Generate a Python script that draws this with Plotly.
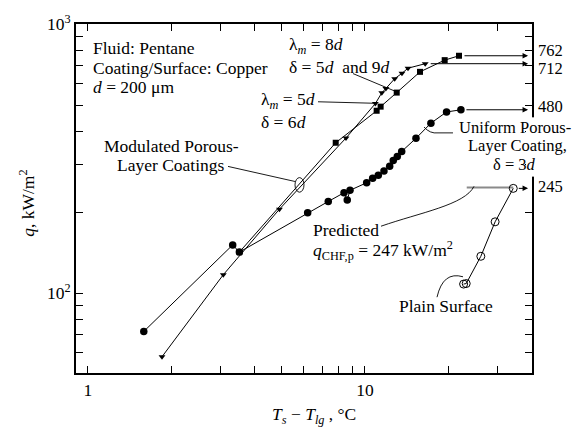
import math
import plotly.graph_objects as go

# ---------------- data ----------------
# Uniform porous-layer coating, delta = 3d (filled circles)
uni_dT = [1.59, 3.33, 3.52, 6.21, 7.37, 8.40, 8.63, 8.83, 10.14, 10.66, 11.17,
          11.71, 12.28, 12.65, 13.08, 13.57, 15.28, 17.3, 19.7, 22.2]
uni_q = [72, 151, 142, 199, 219, 236, 222, 241, 257, 267, 274,
         284, 296, 311, 322, 336, 376, 428, 471, 480]

# Modulated coating, lambda_m = 8d (filled squares)
sq_dT = [3.52, 7.84, 11.02, 11.39, 13.02, 15.8, 19.4, 21.85]
sq_q = [142, 362, 476, 493, 556, 664, 734, 762]

# Modulated coating, lambda_m = 5d (filled triangles)
tri_dT = [1.85, 3.08, 4.91, 8.54, 10.9, 11.5, 11.9, 12.8, 13.6, 14.3, 16.5]
tri_q = [58, 117, 205, 377, 506, 555, 576, 626, 656, 685, 712]

# Plain surface (open circles)
plain_dT = [22.7, 23.2, 26.2, 29.5, 34.3]
plain_q = [108, 108.5, 137, 184, 245]

# Predicted CHF line
pred_dT = [23.3, 34.3]
pred_q = [247, 247]

# CHF values written at the right edge
chf_labels = ["762", "712", "480", "245"]

x_major = [1, 10]
x_major_text = ["1", "10"]
x_minor = [2, 3, 4, 5, 6, 7, 8, 9, 20, 30]
y_major = [100, 1000]
y_major_text = ["10<sup>2</sup>", "10<sup>3</sup>"]
y_minor = [60, 70, 80, 90, 200, 300, 400, 500, 600, 700, 800, 900]

# ---------------- layout geometry ----------------
WIDTH, HEIGHT = 575, 430
L, T, R, B = 76, 14, 43, 57
PW, PH = WIDTH - L - R, HEIGHT - T - B
FONT = "Liberation Serif"
FS = 17.5


def px(x):
    return (x - L) / PW


def py(y):
    return (T + PH - y) / PH


fig = go.Figure()

line_style = dict(color="black", width=1)

fig.add_trace(go.Scatter(x=pred_dT, y=pred_q, mode="lines",
                         line=dict(color="#8a8a8a", width=2), hoverinfo="skip"))
fig.add_trace(go.Scatter(x=uni_dT, y=uni_q, mode="lines+markers", line=line_style,
                         marker=dict(symbol="circle", size=7.5, color="black")))
fig.add_trace(go.Scatter(x=sq_dT, y=sq_q, mode="lines+markers", line=line_style,
                         marker=dict(symbol="square", size=6, color="black")))
fig.add_trace(go.Scatter(x=tri_dT, y=tri_q, mode="lines+markers", line=line_style,
                         marker=dict(symbol="triangle-down", size=6, color="black")))
fig.add_trace(go.Scatter(x=plain_dT, y=plain_q, mode="lines+markers", line=line_style,
                         marker=dict(symbol="circle-open", size=8, color="black",
                                     line=dict(width=1, color="black"))))

annotations = []

# arrows from the last points to the right axis
x_end = math.log10(38.8)
for xs, ys in [(sq_dT, sq_q), (tri_dT, tri_q), (uni_dT, uni_q), (plain_dT, plain_q)]:
    annotations.append(dict(
        x=x_end, y=math.log10(ys[-1]), xref="x", yref="y",
        ax=math.log10(xs[-1]), ay=math.log10(ys[-1]), axref="x", ayref="y",
        text="", showarrow=True, arrowhead=2, arrowsize=1.1, arrowwidth=1,
        arrowcolor="black", standoff=0, startstandoff=4))


def txt(t, x, y, xanchor="left", angle=0, size=FS):
    annotations.append(dict(x=px(x), y=py(y), xref="paper", yref="paper", text=t,
                            showarrow=False, xanchor=xanchor, yanchor="middle",
                            textangle=angle,
                            font=dict(family=FONT, size=size, color="black")))


# CHF value labels on the right
for lab, ypix in zip(chf_labels, [41.5, 60, 99.3, 181]):
    txt(lab, 536, ypix, size=16.5)

txt("Fluid: Pentane", 91, 38.5)
txt("Coating/Surface: Copper", 91, 59.5)
txt("<i>d</i> = 200 μm", 91, 79)
txt("λ<sub><i>m</i></sub> = 8<i>d</i>", 287, 36.5)
txt("δ = 5<i>d</i>  and 9<i>d</i>", 287, 58)
txt("λ<sub><i>m</i></sub> = 5<i>d</i>", 259, 92.5)
txt("δ = 6<i>d</i>", 259, 115)
txt("Modulated Porous-", 171, 139.5, "center")
txt("Layer Coatings", 171, 159, "center")
txt("Uniform Porous-", 515, 120.5, "center", size=16.5)
txt("Layer Coating,", 517, 139, "center", size=16.5)
txt("δ = 3<i>d</i>", 514, 159, "center", size=16.5)
txt("Predicted", 311, 226)
txt("<i>q</i><sub>CHF,p</sub> = 247 kW/m<sup>2</sup>", 311, 247.5)
txt("Plain Surface", 446, 304.5, "center")
txt("<i>q</i>, kW/m<sup>2</sup>", 27, 199, "center", -90)
txt("<i>T<sub>s</sub></i> − <i>T<sub>lg</sub></i> , °C", 314, 416.5, "center")

shapes = []

# white patch hiding the right axis behind the "Uniform Porous-Layer Coating" text
shapes.append(dict(type="rect", xref="paper", yref="paper", layer="above",
                   x0=px(526), x1=px(537), y0=py(171), y1=py(110),
                   fillcolor="white", line=dict(width=0)))


def seg(x0, y0, x1, y1):
    shapes.append(dict(type="line", xref="paper", yref="paper",
                       x0=px(x0), y0=py(y0), x1=px(x1), y1=py(y1),
                       line=dict(color="black", width=0.9)))


def path(cmds):
    s = ""
    for c in cmds:
        if isinstance(c, str):
            s += c + " "
        else:
            s += "%.5f,%.5f " % (px(c[0]), py(c[1]))
    shapes.append(dict(type="path", xref="paper", yref="paper", path=s.strip(),
                       line=dict(color="black", width=0.9)))


seg(353, 65, 396, 83.5)     # lambda_m = 8d leader
seg(318, 94, 373, 95.5)     # lambda_m = 5d leader
seg(228, 160.5, 295, 176)   # modulated leader
shapes.append(dict(type="circle", xref="paper", yref="paper",
                   x0=px(295), x1=px(304), y0=py(187), y1=py(172),
                   line=dict(color="black", width=0.9)))
path(["M", (424, 120), "Q", (430, 127), (438, 126), "L", (453, 126)])
path(["M", (381, 222), "C", (420, 208), (465, 200), (474, 181)])
path(["M", (437, 295), "Q", (443, 268), (463, 274)])

axis_common = dict(
    type="log", ticks="inside", ticklen=7, tickwidth=1, tickcolor="black",
    showline=True, linewidth=2, linecolor="black", mirror="allticks",
    showgrid=False, zeroline=False, tickfont=dict(family=FONT, size=FS),
    tickmode="array",
)

fig.update_layout(
    width=WIDTH, height=HEIGHT, autosize=False,
    margin=dict(l=L, r=R, t=T, b=B, pad=0),
    paper_bgcolor="white", plot_bgcolor="white",
    showlegend=False,
    font=dict(family=FONT, size=FS, color="black"),
    annotations=annotations, shapes=shapes,
    xaxis=dict(axis_common, range=[-0.0433, 1.603], tickvals=x_major, ticktext=x_major_text,
               minor=dict(tickmode="array", tickvals=x_minor, ticks="inside", ticklen=7,
                          tickwidth=1, tickcolor="black", showgrid=False)),
    yaxis=dict(axis_common, range=[1.703, 3.0], tickvals=y_major, ticktext=y_major_text,
               minor=dict(tickmode="array", tickvals=y_minor, ticks="inside", ticklen=7,
                          tickwidth=1, tickcolor="black", showgrid=False)),
)

fig.write_html("out.html")
